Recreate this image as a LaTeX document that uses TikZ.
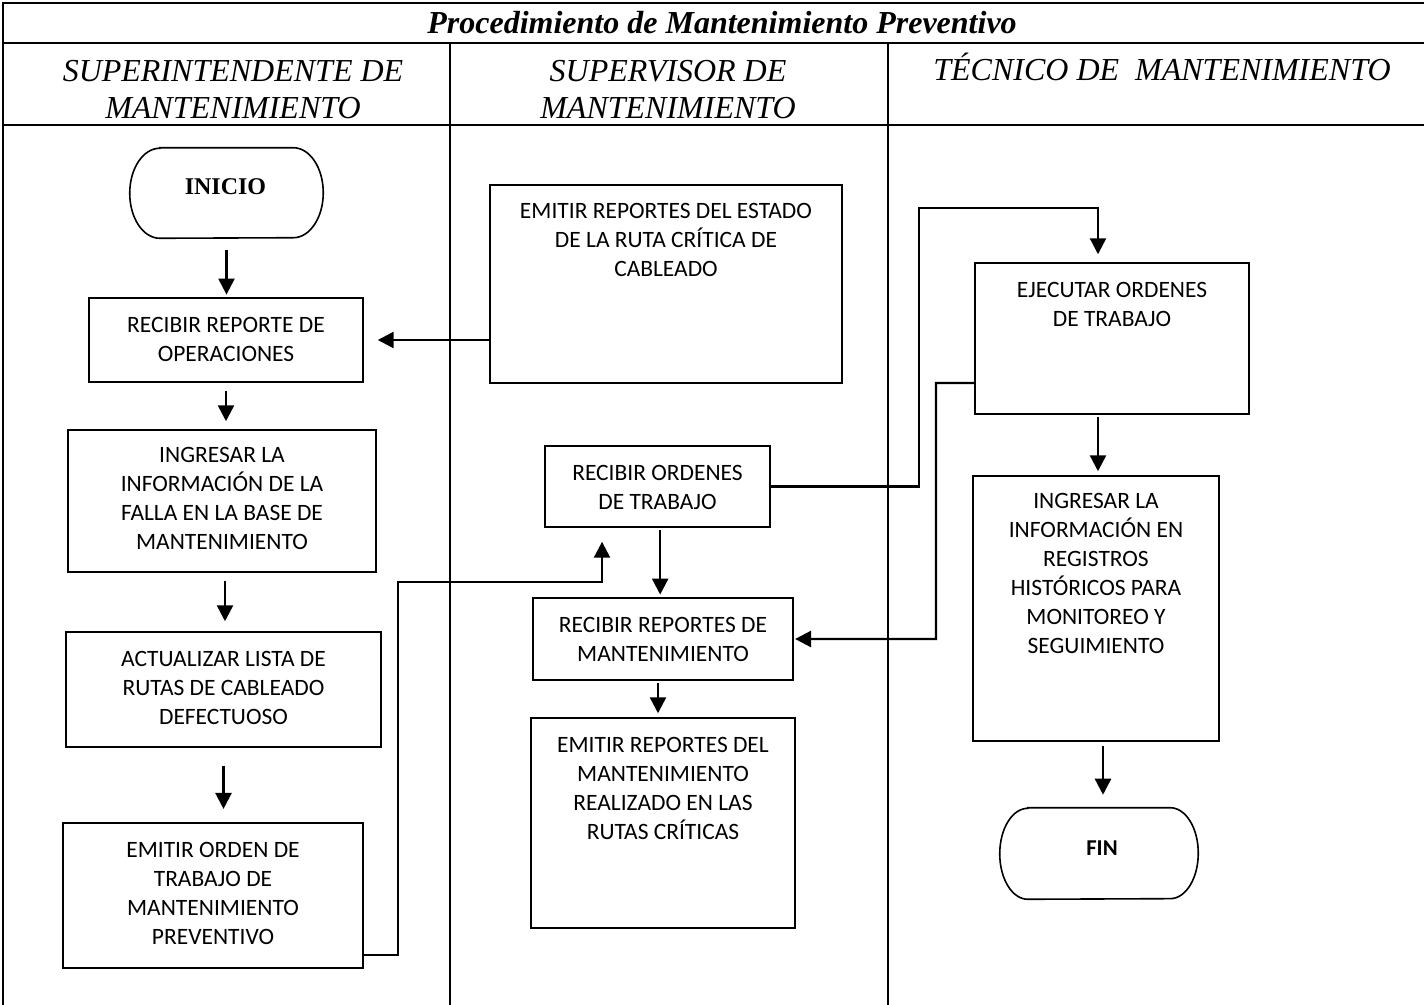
\documentclass[tikz,border=0pt]{standalone}
\usepackage{fontspec}
\setmainfont{Liberation Serif}
\newfontfamily\carl{Carlito}
\usetikzlibrary{arrows.meta,fit,calc}
\begin{document}
\begin{tikzpicture}[x=0.75pt,y=-0.75pt,
  frame/.style={line width=2.2pt},
  box/.style={draw, line width=1.1pt, inner sep=0pt},
  term/.style={draw=none, inner sep=0pt},
  termline/.style={line width=1.2pt},
  txt/.style={font=\carl\fontsize{17.6pt}{21.75pt}\selectfont, align=center, inner sep=0pt, anchor=north},
  head/.style={font=\itshape\fontsize{24pt}{27.75pt}\selectfont, align=center, inner sep=0pt, anchor=base},
  arr/.style={line width=1.8pt, -{Triangle[length=12pt,width=12pt]}},
]
\useasboundingbox (0,0) rectangle (1424,1005);
% frame
\draw[frame] (3,1005) -- (3,3) -- (1424,3);
\draw[frame] (3,43) -- (1424,43);
\draw[frame] (3,125) -- (1424,125);
\draw[frame] (450,43) -- (450,1005);
\draw[frame] (888,43) -- (888,1005);
% titles
\node[head, font=\bfseries\itshape\fontsize{24pt}{28pt}\selectfont] (title) at (722,34) {Procedimiento de Mantenimiento Preventivo};
\node[head, anchor=north] (h1) at (233,60) {SUPERINTENDENTE DE\\MANTENIMIENTO};
\node[head, anchor=north] (h2) at (668,60) {SUPERVISOR DE\\MANTENIMIENTO};
\node[head] (h3) at (1162,81) {TÉCNICO DE\ \ MANTENIMIENTO};
% terminals
\node[term, fit={(130,148) (323,238)}] (inicio) {};
\draw[termline] ([xshift=22.5pt]inicio.north west) -- ([xshift=-22.5pt]inicio.north east)
  arc[start angle=90, end angle=-90, x radius=22.5pt, y radius=33.75pt]
  -- ([xshift=22.5pt]inicio.south west)
  arc[start angle=270, end angle=90, x radius=22.5pt, y radius=33.75pt] -- cycle;
\node[font=\bfseries\fontsize{18pt}{20pt}\selectfont, anchor=base, inner sep=0pt] (inicioT) at ($(inicio.center)+(-1,2)$) {INICIO};
\node[term, fit={(1000,808) (1198,899)}] (fin) {};
\draw[termline] ([xshift=21pt]fin.north west) -- ([xshift=-21pt]fin.north east)
  arc[start angle=90, end angle=-90, x radius=21pt, y radius=34.1pt]
  -- ([xshift=21pt]fin.south west)
  arc[start angle=270, end angle=90, x radius=21pt, y radius=34.1pt] -- cycle;
\node[font=\carl\bfseries\fontsize{17pt}{20pt}\selectfont, anchor=base, inner sep=0pt] (finT) at ($(fin.center)+(3,1.5)$) {FIN};
% boxes
\node[box, fit={(89,298) (363,382)}] (recibir) {};
\node[txt] (recibirT) at ($(recibir.north)+(0,19.4)$) {RECIBIR REPORTE DE\\OPERACIONES};
\node[box, fit={(68,430) (376,572)}] (ingresar) {};
\node[txt] (ingresarT) at ($(ingresar.north)+(0,17.9)$) {INGRESAR LA\\INFORMACIÓN DE LA\\FALLA EN LA BASE DE\\MANTENIMIENTO};
\node[box, fit={(66,632) (381,747)}] (actualizar) {};
\node[txt] (actualizarT) at ($(actualizar.north)+(0,19.4)$) {ACTUALIZAR LISTA DE\\RUTAS DE CABLEADO\\DEFECTUOSO};
\node[box, fit={(63,823) (363,968)}] (orden) {};
\node[txt] (ordenT) at ($(orden.north)+(0,19.9)$) {EMITIR ORDEN DE\\TRABAJO DE\\MANTENIMIENTO\\PREVENTIVO};
\node[box, fit={(490,185) (842,383)}] (estado) {};
\node[txt] (estadoT) at ($(estado.north)+(0,18.9)$) {EMITIR REPORTES DEL ESTADO\\DE LA RUTA CRÍTICA DE\\CABLEADO};
\node[box, fit={(545,446) (770,527)}] (ordenes) {};
\node[txt] (ordenesT) at ($(ordenes.north)+(0,19.9)$) {RECIBIR ORDENES\\DE TRABAJO};
\node[box, fit={(533,598) (793,680)}] (reportes) {};
\node[txt] (reportesT) at ($(reportes.north)+(0,19.4)$) {RECIBIR REPORTES DE\\MANTENIMIENTO};
\node[box, fit={(531,718) (795,928)}] (emitir) {};
\node[txt] (emitirT) at ($(emitir.north)+(0,19.9)$) {EMITIR REPORTES DEL\\MANTENIMIENTO\\REALIZADO EN LAS\\RUTAS CRÍTICAS};
\node[box, fit={(975,263) (1249,414)}] (ejecutar) {};
\node[txt] (ejecutarT) at ($(ejecutar.north)+(0,19.4)$) {EJECUTAR ORDENES\\DE TRABAJO};
\node[box, fit={(973,476) (1219,741)}] (registros) {};
\node[txt] (registrosT) at ($(registros.north)+(0,17.9)$) {INGRESAR LA\\INFORMACIÓN EN\\REGISTROS\\HISTÓRICOS PARA\\MONITOREO Y\\SEGUIMIENTO};
% straight arrows
\draw[arr, shorten <=9pt, shorten >=2pt] (inicio.south) -- (inicio.south |- recibir.north);
\draw[arr, shorten <=6pt, shorten >=6pt] (recibir.south) -- (recibir.south |- ingresar.north);
\draw[arr, shorten <=6pt, shorten >=7.5pt] ([xshift=2.25pt]ingresar.south) -- ([xshift=2.25pt]ingresar.south |- actualizar.north);
\draw[arr, shorten <=13.5pt, shorten >=10pt] (actualizar.south) -- (actualizar.south |- orden.north);
\draw[arr, shorten <=2pt, shorten >=2pt] ([xshift=2pt]ordenes.south) -- ([xshift=2pt]ordenes.south |- reportes.north);
\draw[arr, shorten <=1.5pt, shorten >=3pt] ([xshift=-3.75pt]reportes.south) -- ([xshift=-3.75pt]reportes.south |- emitir.north);
\draw[arr, shorten <=1.5pt, shorten >=3pt] ([xshift=-10.5pt]ejecutar.south) -- ([xshift=-10.5pt]ejecutar.south |- registros.north);
\draw[arr, shorten <=3pt, shorten >=9.75pt] ([xshift=5.25pt]registros.south) -- ([xshift=5.25pt]registros.south |- fin.north);
% elbow connectors
\draw[arr, shorten >=10.5pt] (recibir.east -| estado.west) -- (recibir.east);
\coordinate (b1) at (398,582);
\draw[arr, shorten >=10.5pt] ([yshift=-44.6pt]orden.east) -| (b1) -| ([xshift=-41.6pt]ordenes.south);
\coordinate (c1) at (919,208);
\draw[arr, shorten >=6pt] (ordenes.east) -| (c1) -| ([xshift=-10.5pt]ejecutar.north);
\coordinate (d1) at (936,383);
\draw[arr, shorten >=1pt] ([yshift=-33.4pt]ejecutar.west) -- (d1) |- (reportes.east);
\end{tikzpicture}
\end{document}
